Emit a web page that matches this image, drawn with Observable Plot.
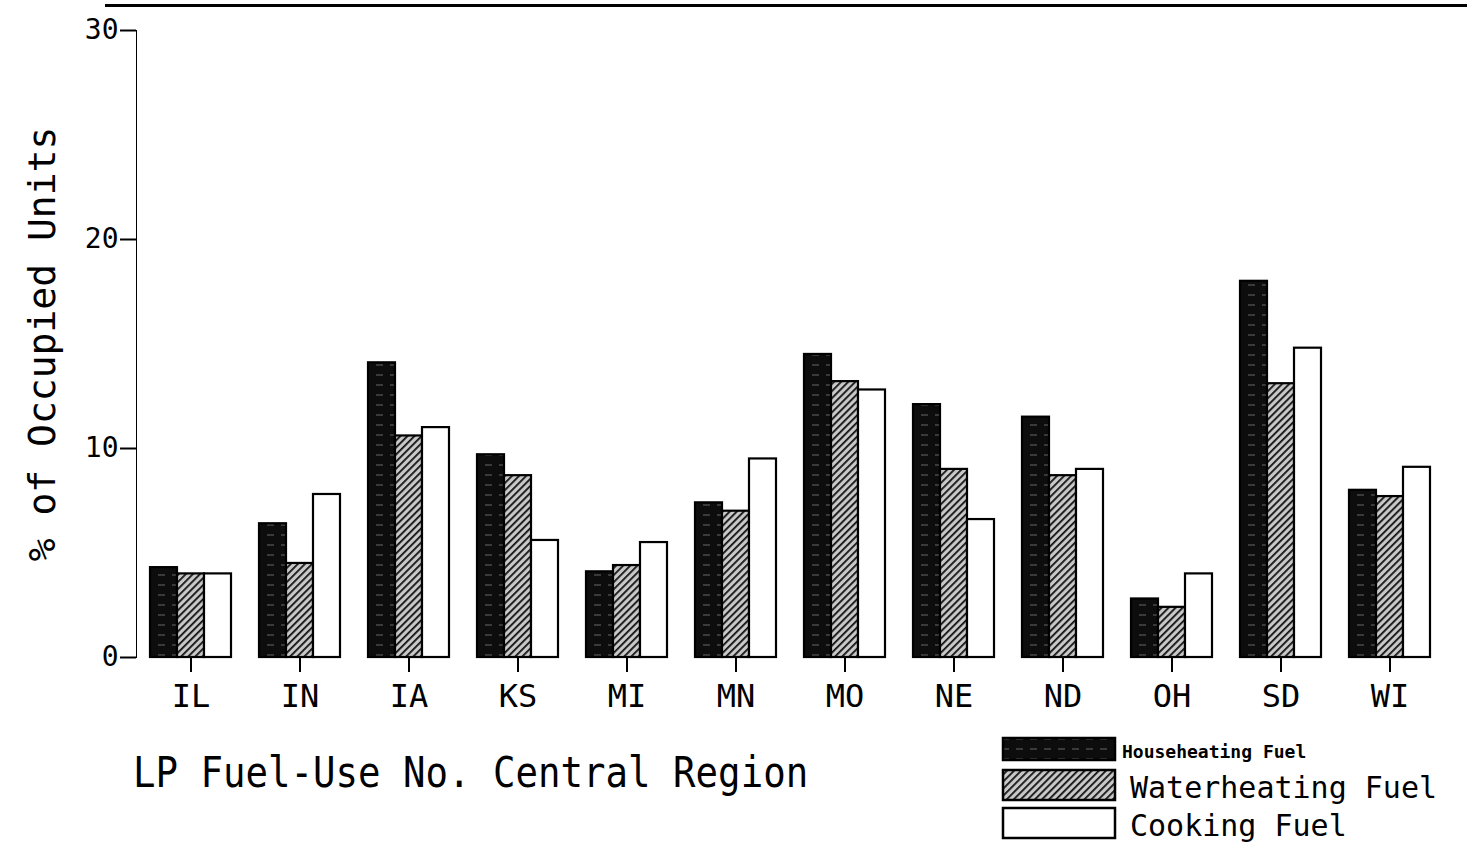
<!DOCTYPE html>
<html><head><meta charset="utf-8">
<script src="https://cdn.jsdelivr.net/npm/d3@7"></script>
<script src="https://cdn.jsdelivr.net/npm/@observablehq/plot@0.6"></script>
<style>
html,body{margin:0;padding:0;background:#fff;}
body{width:1467px;height:846px;overflow:hidden;position:relative;font-family:"DejaVu Sans Mono",monospace;color:#000;}
#chart{position:absolute;left:0;top:0;}
#topline{position:absolute;left:105px;top:4px;width:1362px;height:3px;background:#000;}
#title{position:absolute;left:133px;top:748px;font-size:42px;white-space:nowrap;transform:scaleX(0.89);transform-origin:0 0;}
#legend{position:absolute;left:1000px;top:734px;}
#chart svg g[aria-label="y-axis label"] text{font-size:38px;}
#chart svg g[aria-label="fx-axis tick label"] text{font-size:32px;}
#chart svg [aria-label$="axis line"] line,#chart svg [aria-label$="axis line"] path{stroke-width:2.5px;}
#chart svg [aria-label$="axis tick"] path{stroke-width:2px;}
</style></head><body>
<svg width="0" height="0" style="position:absolute">
<defs>
<pattern id="house" width="14" height="10" patternUnits="userSpaceOnUse">
<rect width="14" height="10" fill="#0d0d0d"/>
<line x1="2" y1="5" x2="9" y2="5" stroke="#666" stroke-width="1"/>
</pattern>
<pattern id="water" width="5" height="5" patternUnits="userSpaceOnUse" patternTransform="rotate(45)">
<rect width="5" height="5" fill="#c8c8c8"/>
<line x1="0" y1="0" x2="0" y2="5" stroke="#111" stroke-width="3.6"/>
</pattern>
</defs>
</svg>
<div id="topline"></div>
<div id="chart"></div>
<div id="title">LP Fuel-Use No. Central Region</div>
<div id="legend"></div>
<script>
const states = ["IL","IN","IA","KS","MI","MN","MO","NE","ND","OH","SD","WI"];
const houseHeating = [4.3,6.4,14.1,9.7,4.1,7.4,14.5,12.1,11.5,2.8,18.0,8.0];
const waterHeating = [4.0,4.5,10.6,8.7,4.4,7.0,13.2,9.0,8.7,2.4,13.1,7.7];
const cooking = [4.0,7.8,11.0,5.6,5.5,9.5,12.8,6.6,9.0,4.0,14.8,9.1];
const seriesNames = ["Househeating Fuel","Waterheating Fuel","Cooking Fuel"];
const seriesFills = ["url(#house)","url(#water)","#fff"];
const yTicks = [0,10,20,30];

const seriesValues = [houseHeating, waterHeating, cooking];
const rows = [];
states.forEach((s,i)=>seriesNames.forEach((n,k)=>rows.push({state:s, series:n, value:seriesValues[k][i]})));

const chart = Plot.plot({
  width:1467, height:727,
  marginLeft:134, marginRight:22, marginTop:30, marginBottom:70,
  style:{fontFamily:"DejaVu Sans Mono, monospace", fontSize:"28px", color:"#000", background:"transparent", overflow:"visible"},
  fx:{domain:states, paddingInner:0, paddingOuter:0, label:null, tickSize:15, tickPadding:12, line:true},
  x:{domain:seriesNames, axis:null, paddingInner:0, paddingOuter:0.45},
  y:{domain:[0,30], ticks:yTicks, tickSize:16, tickPadding:2, label:"% of Occupied Units", labelAnchor:"center", labelOffset:108, labelArrow:"none", line:true},
  color:{domain:seriesNames, range:seriesFills},
  marks:[
    Plot.barY(rows,{fx:"state", x:"series", y:"value", fill:"series", stroke:"#000", strokeWidth:2.2})
  ]
});
document.getElementById("chart").appendChild(chart);

// legend
const lg = d3.select("#legend").append("svg").attr("width",467).attr("height",112);
const rowsY = [4,36,74], rowsH = [22,30,30], fsz = [18,30,30], tx=[122,130,130], fw=["bold","normal","normal"];
seriesNames.forEach((n,k)=>{
  lg.append("rect").attr("x",3).attr("y",rowsY[k]).attr("width",112).attr("height",rowsH[k])
    .attr("fill",seriesFills[k]).attr("stroke","#000").attr("stroke-width",2.5);
  lg.append("text").attr("x",tx[k]).attr("y",rowsY[k]+rowsH[k]-2)
    .attr("font-family","DejaVu Sans Mono, monospace").attr("font-size",fsz[k]).attr("font-weight",fw[k]).text(n);
});
</script>
</body></html>
